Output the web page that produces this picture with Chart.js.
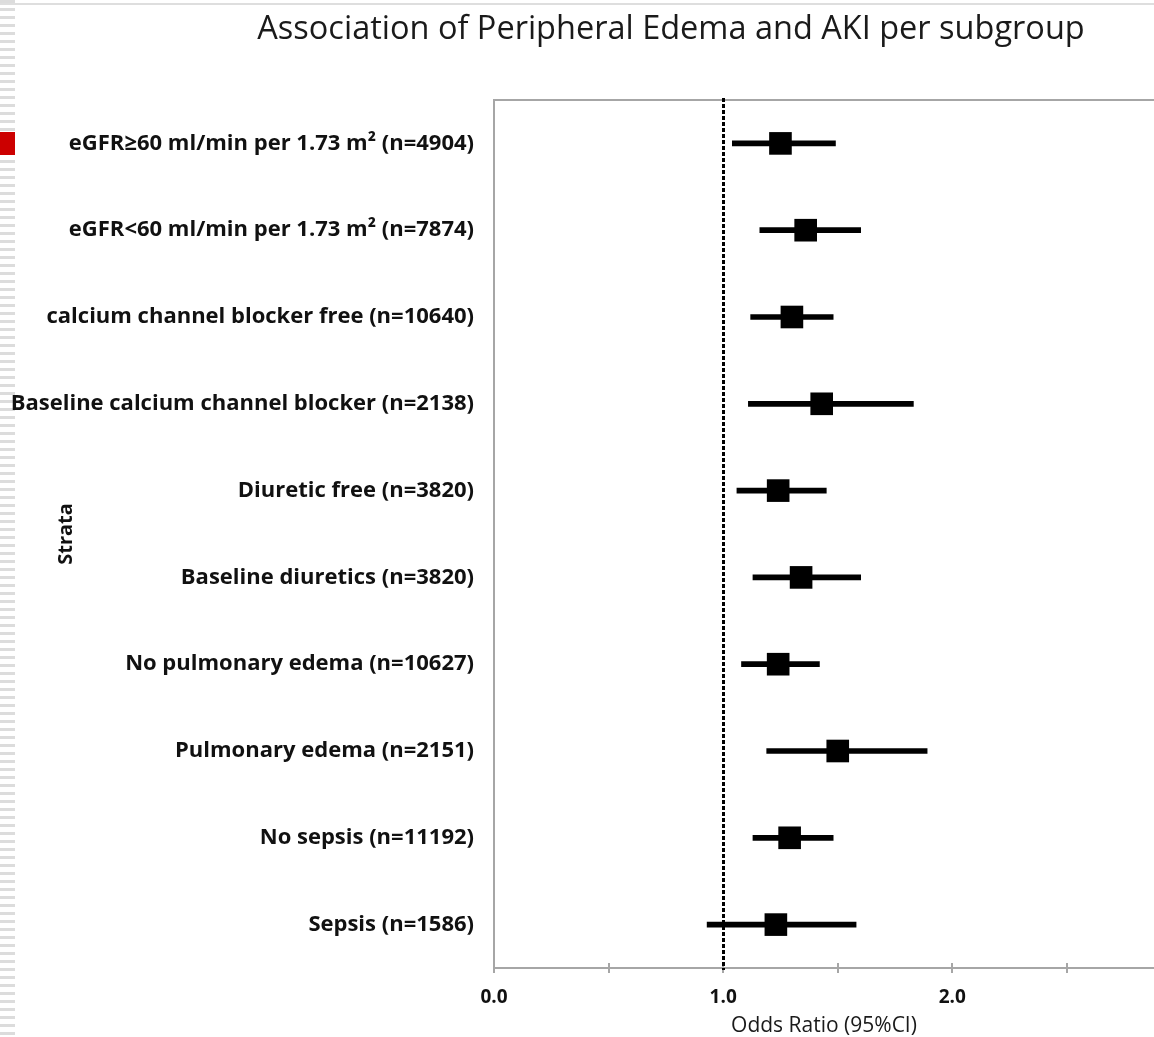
<!DOCTYPE html>
<html>
<head>
<meta charset="utf-8">
<script src="https://cdn.jsdelivr.net/npm/chart.js@4/dist/chart.umd.min.js"></script>
<style>
  html, body { margin: 0; padding: 0; background: #fff; overflow: hidden; }
  #wrap { position: relative; width: 1154px; height: 1037px; }
  #stripes { position: absolute; left: 0; top: 0; width: 15px; height: 1037px;
    background: repeating-linear-gradient(to bottom, #dcdcdc 0px, #dcdcdc 3px, #fff 3px, #fff 8px); }
  #topline { position: absolute; left: 0; top: 3px; width: 1154px; height: 2px; background: #dedede; }
  #redbox { position: absolute; left: 0; top: 132px; width: 15px; height: 23px; background: #cc0000; }
  #title { position: absolute; left: 0; top: 6px; width: 1342px; text-align: center;
    font-family: "Open Sans", sans-serif; font-size: 32.5px; color: #1a1a1a; line-height: 42px; }
  canvas { position: absolute; left: 0; top: 0; }
</style>
</head>
<body>
<div id="wrap">
  <div id="stripes"></div>
  <div id="topline"></div>
  <div id="redbox"></div>
  <canvas id="c" width="1154" height="1037"></canvas>
  <div id="title">Association of Peripheral Edema and AKI per subgroup</div>
</div>
<script>
const categories = [
  "eGFR\u226560 ml/min per 1.73 m\u00b2 (n=4904)",
  "eGFR<60 ml/min per 1.73 m\u00b2 (n=7874)",
  "calcium channel blocker free (n=10640)",
  "Baseline calcium channel blocker (n=2138)",
  "Diuretic free (n=3820)",
  "Baseline diuretics (n=3820)",
  "No pulmonary edema (n=10627)",
  "Pulmonary edema (n=2151)",
  "No sepsis (n=11192)",
  "Sepsis (n=1586)"
];
const oddsRatio = [1.25, 1.36, 1.30, 1.43, 1.24, 1.34, 1.24, 1.50, 1.29, 1.23];
const ciLower   = [1.04, 1.16, 1.12, 1.11, 1.06, 1.13, 1.08, 1.19, 1.13, 0.93];
const ciUpper   = [1.49, 1.60, 1.48, 1.83, 1.45, 1.60, 1.42, 1.89, 1.48, 1.58];
const xTickLabels = ["0.0", "1.0", "2.0"];
const referenceValue = 1.0;
const xMin = 0, xMax = 2.88;

const ciRanges = ciLower.map((lo, i) => [lo, ciUpper[i]]);

const frame = {
  id: 'frame',
  afterDatasetsDraw(chart) {
    const {ctx, chartArea, scales} = chart;
    ctx.save();
    // top border
    ctx.strokeStyle = '#a6a6a6';
    ctx.lineWidth = 2;
    ctx.beginPath();
    ctx.moveTo(chartArea.left, chartArea.top);
    ctx.lineTo(chartArea.right, chartArea.top);
    ctx.stroke();
    // tick marks above the axis line too
    ctx.beginPath();
    scales.x.ticks.forEach(t => {
      const px = Math.round(scales.x.getPixelForValue(t.value));
      ctx.moveTo(px, chartArea.bottom - 5);
      ctx.lineTo(px, chartArea.bottom);
    });
    ctx.stroke();
    // reference line
    const x = Math.round(scales.x.getPixelForValue(referenceValue)) + 0.5;
    ctx.strokeStyle = '#000';
    ctx.lineWidth = 3;
    ctx.setLineDash([4, 2]);
    ctx.beginPath();
    ctx.moveTo(x, chartArea.top - 2);
    ctx.lineTo(x, chartArea.bottom + 2);
    ctx.stroke();
    ctx.restore();
  }
};

new Chart(document.getElementById('c'), {
  data: {
    labels: categories,
    datasets: [
      {
        type: 'bar',
        label: '95% CI',
        data: ciRanges,
        backgroundColor: '#000',
        borderWidth: 0,
        barThickness: 5,
        order: 2
      },
      {
        type: 'line',
        label: 'Odds Ratio',
        data: oddsRatio,
        indexAxis: 'y',
        showLine: false,
        pointStyle: 'rect',
        pointRadius: 16,
        pointBackgroundColor: '#000',
        pointBorderColor: '#000',
        pointBorderWidth: 0,
        order: 1
      }
    ]
  },
  options: {
    indexAxis: 'y',
    responsive: false,
    animation: false,
    events: [],
    layout: { autoPadding: false, padding: { left: 0, top: 100, right: 0, bottom: 0 } },
    plugins: { legend: { display: false }, tooltip: { enabled: false }, title: { display: false } },
    scales: {
      x: {
        type: 'linear',
        min: xMin,
        max: xMax,
        afterFit(scale) { scale.height = 69; scale.paddingLeft = 0; scale.paddingRight = 0; },
        border: { display: true, color: '#a6a6a6', width: 2 },
        grid: { drawOnChartArea: false, drawTicks: true, tickLength: 5, color: '#a6a6a6', lineWidth: 2 },
        ticks: {
          stepSize: 0.5,
          includeBounds: false,
          autoSkip: false,
          maxRotation: 0,
          padding: 13,
          color: '#111',
          font: { family: '"Open Sans", sans-serif', size: 19, weight: 'bold' },
          callback(v) {
            const lbl = Number(v).toFixed(1);
            return xTickLabels.includes(lbl) ? lbl : '';
          }
        },
        title: {
          display: true,
          text: 'Odds Ratio (95%CI)',
          color: '#1a1a1a',
          padding: { top: 0, bottom: 0 },
          font: { family: '"Open Sans", sans-serif', size: 21, lineHeight: 1.0 }
        }
      },
      y: {
        type: 'category',
        offset: true,
        afterFit(scale) { scale.width = 494; },
        border: { display: true, color: '#a6a6a6', width: 2 },
        grid: { drawOnChartArea: false, drawTicks: false },
        ticks: {
          padding: 20,
          autoSkip: false,
          color: '#111',
          font: { family: '"Open Sans", sans-serif', size: 22, weight: 'bold' }
        },
        title: {
          display: true,
          text: 'Strata',
          color: '#111',
          padding: { top: 54, bottom: 0 },
          font: { family: '"Open Sans", sans-serif', size: 20, weight: 'bold' }
        }
      }
    }
  },
  plugins: [frame]
});
</script>
</body>
</html>
